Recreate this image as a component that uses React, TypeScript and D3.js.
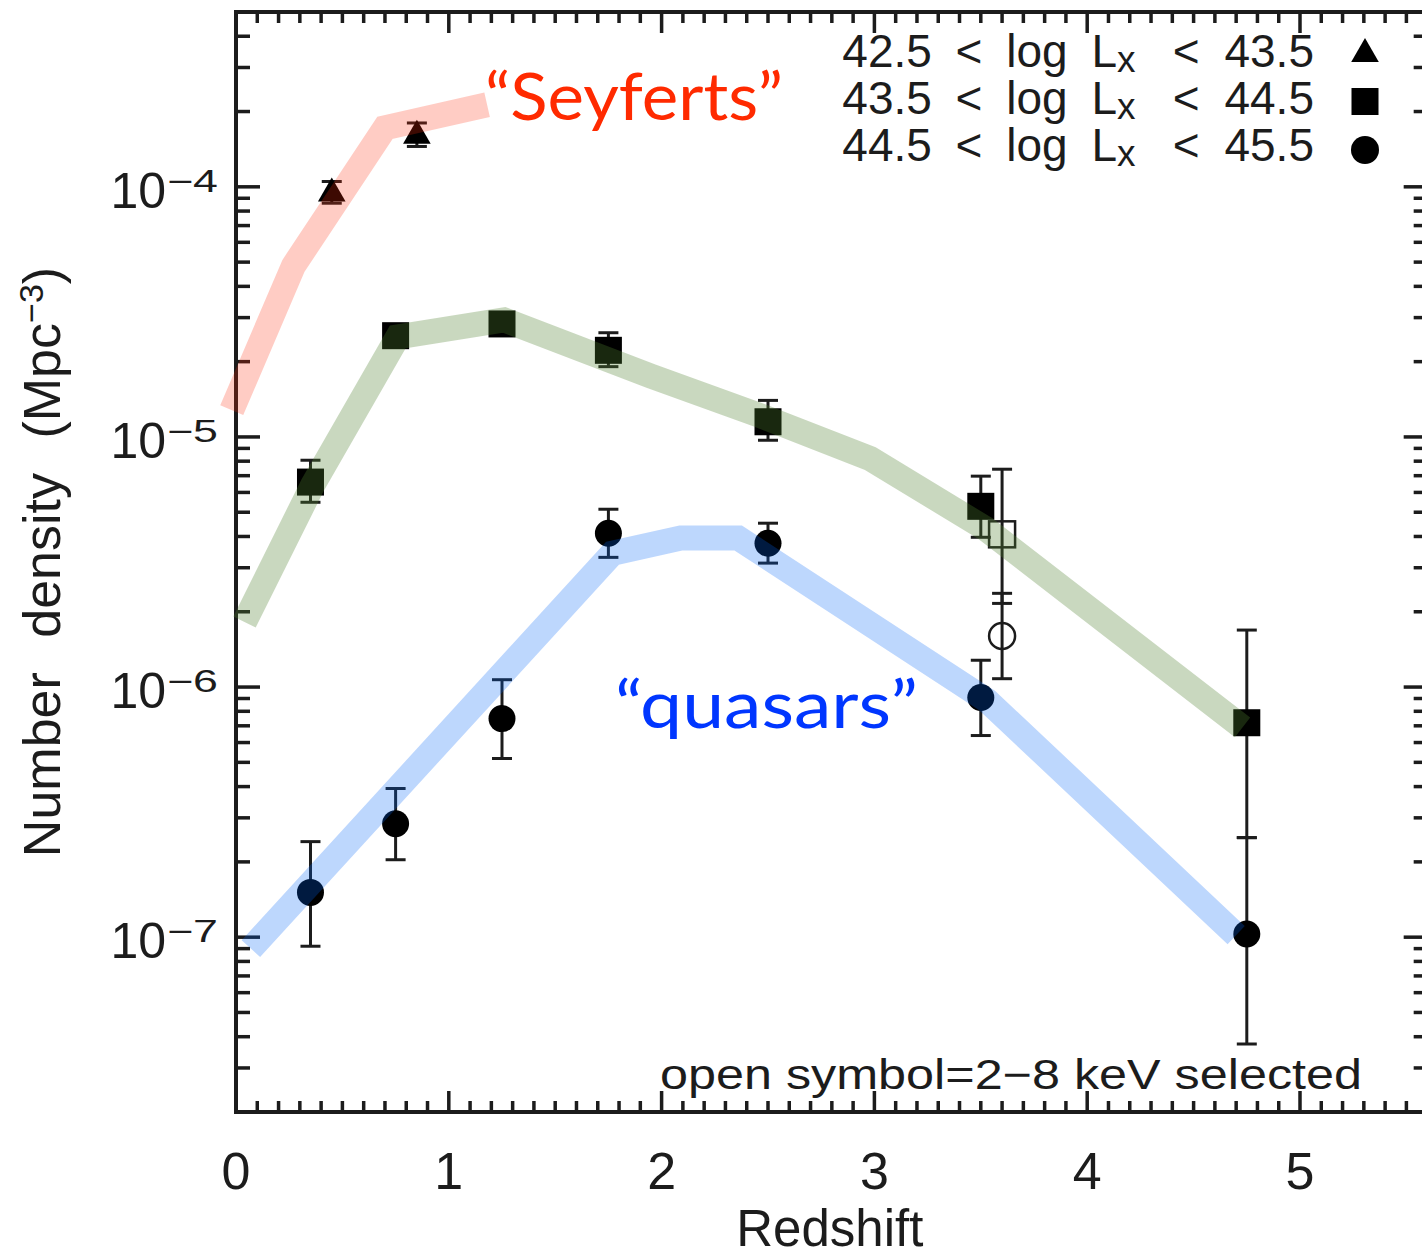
import React from "react";
import * as d3 from "d3";

const W = 1422;
const H = 1257;

// Axis ranges
const zDomain = [0, 5.6];
const nDomain = [2e-8, 5e-4];
const xTickLabels = [0, 1, 2, 3, 4, 5];
const yTickExponents = [-4, -5, -6, -7];

// 42.5 < log Lx < 43.5 ("Seyferts")
const lowZ = [0.45, 0.85];
const lowN = [9.4e-5, 1.6e-4];
const lowHi = [1.05e-4, 1.8e-4];
const lowLo = [8.6e-5, 1.45e-4];

// 43.5 < log Lx < 44.5
const midZ = [0.35, 0.75, 1.25, 1.75, 2.5, 3.5, 4.75];
const midN = [6.6e-6, 2.54e-5, 2.83e-5, 2.22e-5, 1.15e-5, 5.28e-6, 7.2e-7];
const midHi = [8.07e-6, 2.75e-5, 3.0e-5, 2.61e-5, 1.4e-5, 6.97e-6, 1.69e-6];
const midLo = [5.48e-6, 2.35e-5, 2.66e-5, 1.91e-5, 9.7e-6, 3.97e-6, 2.5e-7];

// 44.5 < log Lx < 45.5 ("quasars")
const highZ = [0.35, 0.75, 1.25, 1.75, 2.5, 3.5, 4.75];
const highN = [1.51e-7, 2.84e-7, 7.48e-7, 4.12e-6, 3.76e-6, 9.08e-7, 1.03e-7];
const highHi = [2.41e-7, 3.93e-7, 1.07e-6, 5.14e-6, 4.52e-6, 1.28e-6, 2.5e-7];
const highLo = [9.2e-8, 2.04e-7, 5.18e-7, 3.3e-6, 3.13e-6, 6.4e-7, 3.74e-8];

// 2-8 keV selected (open symbols)
const hardMidZ = [3.6];
const hardMidN = [4.08e-6];
const hardMidHi = [7.43e-6];
const hardMidLo = [2.16e-6];
const hardHighZ = [3.6];
const hardHighN = [1.6e-6];
const hardHighHi = [2.37e-6];
const hardHighLo = [1.08e-6];

// Model tracks
const seyfertTrackZ = [-0.02, 0.27, 0.7, 1.18];
const seyfertTrackN = [1.28e-5, 4.83e-5, 1.72e-4, 2.13e-4];
const midTrackZ = [0.04, 0.36, 0.76, 1.26, 1.95, 2.46, 2.98, 3.52, 4.73];
const midTrackN = [1.82e-6, 6.41e-6, 2.51e-5, 2.94e-5, 1.75e-5, 1.22e-5, 8.2e-6, 4.31e-6, 6.9e-7];
const quasarTrackZ = [0.07, 1.77, 2.09, 2.36, 3.53, 4.7];
const quasarTrackN = [9.0e-8, 3.43e-6, 3.94e-6, 3.94e-6, 8.83e-7, 1.02e-7];

const legendRanges = [
  ["42.5", "43.5"],
  ["43.5", "44.5"],
  ["44.5", "45.5"],
];

const INK = "#1c1c1c";
const FONT = "'Liberation Sans', Arial, sans-serif";
const LABEL_FONT = "Lato, 'Open Sans', sans-serif";

export default function App() {
  const x = d3.scaleLinear().domain(zDomain).range([236, 236 + 5.6 * 212.8]);
  const y = d3.scaleLog().domain(nDomain).range([1112, 12]);
  const [x0, x1] = x.range();
  const [yb, yt] = y.range();

  const xMinor = d3.range(0, 56 + 1).map((i) => i / 10);
  const yMinor: number[] = [];
  for (let e = -8; e <= -4; e++) {
    for (let m = 1; m <= 9; m++) {
      const v = m * Math.pow(10, e);
      if (v >= nDomain[0] && v <= nDomain[1]) yMinor.push(v);
    }
  }

  const line = d3
    .line<[number, number]>()
    .x((d) => x(d[0]))
    .y((d) => y(d[1]));

  const track = (zs: number[], ns: number[]) =>
    line(zs.map((z, i) => [z, ns[i]] as [number, number])) || "";

  const errorBars = (zs: number[], hi: number[], lo: number[], key: string) =>
    zs.map((z, i) => {
      const cx = x(z);
      return (
        <g key={key + i} stroke={INK} strokeWidth={3}>
          <line x1={cx} x2={cx} y1={y(hi[i])} y2={y(lo[i])} />
          <line x1={cx - 10} x2={cx + 10} y1={y(hi[i])} y2={y(hi[i])} />
          <line x1={cx - 10} x2={cx + 10} y1={y(lo[i])} y2={y(lo[i])} />
        </g>
      );
    });

  const triPath = d3.symbol().type(d3.symbolTriangle).size(330)() || "";

  return (
    <svg
      width={W}
      height={H}
      viewBox={`0 0 ${W} ${H}`}
      style={{ position: "absolute", left: 0, top: 0, background: "#fff" }}
    >
      <rect x={0} y={0} width={W} height={H} fill="#fff" />

      {/* ticks */}
      <g stroke={INK} strokeWidth={3.5}>
        {xMinor.map((z, i) => {
          const major = Math.abs(z - Math.round(z)) < 1e-6;
          const len = major ? 21 : 11;
          return (
            <g key={"xt" + i}>
              <line x1={x(z)} x2={x(z)} y1={yb} y2={yb - len} />
              <line x1={x(z)} x2={x(z)} y1={yt} y2={yt + len} />
            </g>
          );
        })}
        {yMinor.map((v, i) => {
          const major = Math.abs(Math.log10(v) - Math.round(Math.log10(v))) < 1e-6;
          const len = major ? 24 : 14;
          return (
            <g key={"yt" + i}>
              <line x1={x0} x2={x0 + len} y1={y(v)} y2={y(v)} />
              <line x1={x1} x2={x1 - len} y1={y(v)} y2={y(v)} />
            </g>
          );
        })}
      </g>

      {/* frame */}
      <rect
        x={x0}
        y={yt}
        width={x1 - x0}
        height={yb - yt}
        fill="none"
        stroke={INK}
        strokeWidth={4}
      />

      {/* x tick labels */}
      <g fontFamily={FONT} fontSize={52} fill={INK} textAnchor="middle">
        {xTickLabels.map((t) => (
          <text key={"xl" + t} x={x(t)} y={1189}>
            {t}
          </text>
        ))}
      </g>

      {/* y tick labels */}
      <g fontFamily={FONT} fill={INK}>
        {yTickExponents.map((e) => {
          const ty = y(Math.pow(10, e));
          return (
            <g key={"yl" + e}>
              <text x={x0 - 70} y={ty + 21} fontSize={50} textAnchor="end">
                10
              </text>
              <text
                x={x0 - 69}
                y={ty + 5}
                fontSize={31}
                textLength={51}
                lengthAdjust="spacingAndGlyphs"
              >
                {"\u2212" + Math.abs(e)}
              </text>
            </g>
          );
        })}
      </g>

      {/* axis titles */}
      <text
        x={(x0 + x1) / 2 - 2}
        y={1246}
        fontFamily={FONT}
        fontSize={51}
        fill={INK}
        textAnchor="middle"
      >
        Redshift
      </text>
      <text
        transform={`translate(60, ${(yt + yb) / 2}) rotate(-90)`}
        fontFamily={FONT}
        fontSize={52}
        fill={INK}
        textAnchor="middle"
        wordSpacing={20}
      >
        Number density (Mpc
        <tspan fontSize={34} dy={-17}>
          {"\u22123"}
        </tspan>
        <tspan dy={17}>)</tspan>
      </text>

      {/* error bars */}
      {errorBars(lowZ, lowHi, lowLo, "le")}
      {errorBars(midZ, midHi, midLo, "me")}
      {errorBars(highZ, highHi, highLo, "he")}
      {errorBars(hardMidZ, hardMidHi, hardMidLo, "hme")}
      {errorBars(hardHighZ, hardHighHi, hardHighLo, "hhe")}

      {/* markers */}
      {lowZ.map((z, i) => (
        <path
          key={"lm" + i}
          d={triPath}
          transform={`translate(${x(z)},${y(lowN[i])})`}
          fill="#000"
        />
      ))}
      {midZ.map((z, i) => (
        <rect
          key={"mm" + i}
          x={x(z) - 13.5}
          y={y(midN[i]) - 13.5}
          width={27}
          height={27}
          fill="#000"
        />
      ))}
      {highZ.map((z, i) => (
        <circle key={"hm" + i} cx={x(z)} cy={y(highN[i])} r={13.5} fill="#000" />
      ))}
      {hardMidZ.map((z, i) => (
        <rect
          key={"hmm" + i}
          x={x(z) - 13}
          y={y(hardMidN[i]) - 13}
          width={26}
          height={26}
          fill="none"
          stroke={INK}
          strokeWidth={2.5}
        />
      ))}
      {hardHighZ.map((z, i) => (
        <circle
          key={"hhm" + i}
          cx={x(z)}
          cy={y(hardHighN[i])}
          r={13}
          fill="none"
          stroke={INK}
          strokeWidth={2.5}
        />
      ))}

      {/* translucent model tracks drawn over the points */}
      <g fill="none" strokeWidth={25} strokeLinejoin="miter" strokeLinecap="butt">
        <path d={track(seyfertTrackZ, seyfertTrackN)} stroke="rgb(255,40,10)" strokeOpacity={0.24} />
        <path d={track(midTrackZ, midTrackN)} stroke="rgb(80,130,50)" strokeOpacity={0.31} />
        <path d={track(quasarTrackZ, quasarTrackN)} stroke="rgb(0,100,247)" strokeOpacity={0.26} />
      </g>

      {/* population labels */}
      <text
        x={485}
        y={120}
        fontFamily={LABEL_FONT}
        fontSize={66}
        fill="#ff2a00"
        textLength={298}
        lengthAdjust="spacingAndGlyphs"
      >
        {"\u201cSeyferts\u201d"}
      </text>
      <text
        x={615}
        y={728}
        fontFamily={LABEL_FONT}
        fontSize={66}
        fill="#0036ff"
        textLength={303}
        lengthAdjust="spacingAndGlyphs"
      >
        {"\u201cquasars\u201d"}
      </text>

      {/* legend */}
      <g fontFamily={FONT} fontSize={46} fill={INK}>
        {legendRanges.map((r, i) => {
          const by = 67 + i * 47;
          return (
            <g key={"lg" + i}>
              <text x={1117} y={by} textAnchor="end" wordSpacing={11}>
                {r[0] + " < log L"}
              </text>
              <text x={1117} y={by + 5} fontSize={37}>
                x
              </text>
              <text x={1314} y={by} textAnchor="end" wordSpacing={12}>
                {"< " + r[1]}
              </text>
            </g>
          );
        })}
      </g>
      <path d={triPath} transform="translate(1365,54)" fill="#000" />
      <rect x={1351.5} y={88} width={27} height={27} fill="#000" />
      <circle cx={1365} cy={150} r={14} fill="#000" />

      <text
        x={660}
        y={1089}
        fontFamily={FONT}
        fontSize={42}
        fill={INK}
        textLength={702}
        lengthAdjust="spacingAndGlyphs"
      >
        {"open symbol=2\u22128 keV selected"}
      </text>
    </svg>
  );
}
